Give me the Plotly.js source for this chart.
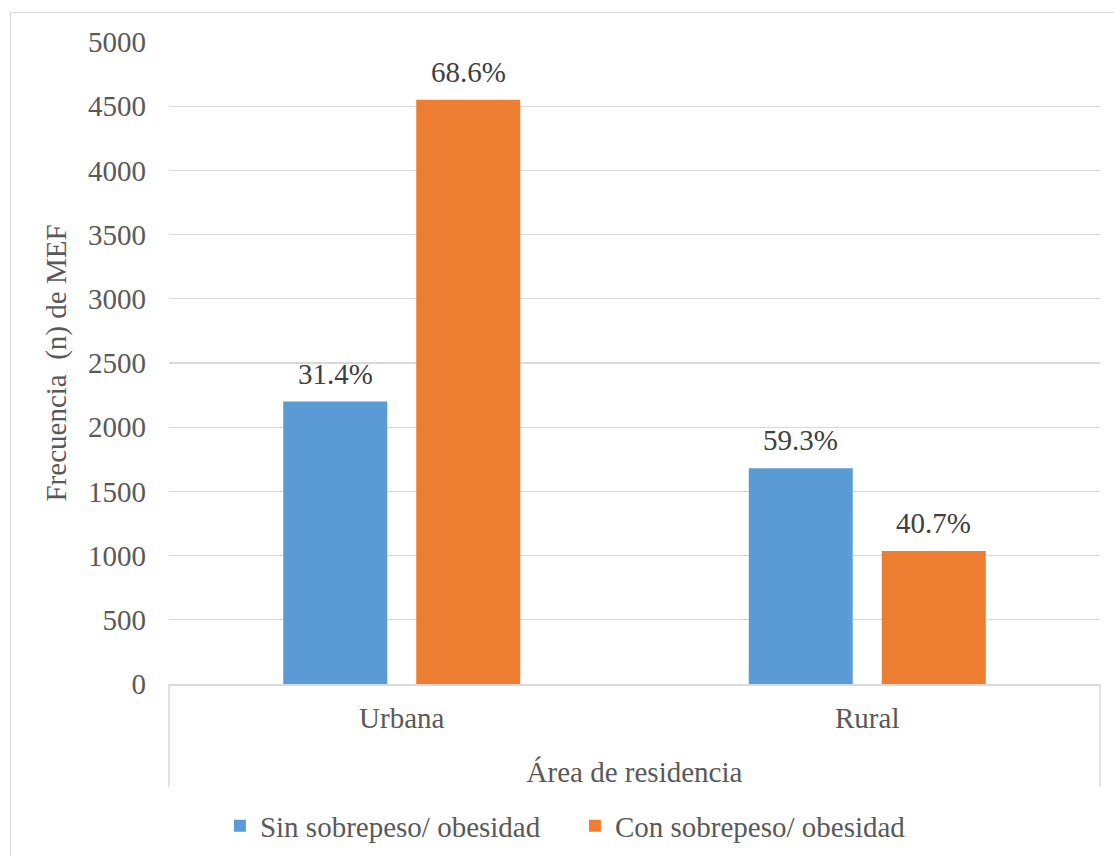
<!DOCTYPE html>
<html>
<head>
<meta charset="utf-8">
<script src="https://cdn.plot.ly/plotly-3.0.1.min.js"></script>
<style>
  html, body { margin: 0; padding: 0; background: #fff; }
  #wrap { position: relative; width: 1114px; height: 856px; overflow: hidden; }
  #frame { position: absolute; left: 10px; top: 12px; width: 1200px; height: 1000px; border: 1.5px solid #d9d9d9; box-sizing: border-box; pointer-events: none; }
  #chart { position: absolute; left: 0; top: 0; width: 1114px; height: 856px; }
</style>
</head>
<body>
<div id="wrap">
  <div id="chart"></div>
  <div id="frame"></div>
</div>
<script>
const categories = ["Urbana", "Rural"];
const sinValues = [2200, 1680];
const conValues = [4550, 1035];
const sinLabels = ["31.4%", "59.3%"];
const conLabels = ["68.6%", "40.7%"];
const seriesNames = ["Sin sobrepeso/ obesidad", "Con sobrepeso/ obesidad"];
const yTickVals = [0, 500, 1000, 1500, 2000, 2500, 3000, 3500, 4000, 4500, 5000];

const FONT = "Liberation Serif, Times New Roman, serif";
const TXT = "#595959";
const FS = 29;

const traces = [
  {
    type: "bar", name: seriesNames[0], x: categories, y: sinValues,
    marker: {color: "#5B9BD5"}
  },
  {
    type: "bar", name: seriesNames[1], x: categories, y: conValues,
    marker: {color: "#ED7D31"}
  }
];

// value labels above each bar (grouped offset: half a bar slot to each side)
const annotations = [];
const seriesVals = [sinValues, conValues];
const seriesLbls = [sinLabels, conLabels];
const shifts = [-66.5, 66.5];
for (let s = 0; s < 2; s++) {
  for (let i = 0; i < categories.length; i++) {
    annotations.push({
      x: categories[i], y: seriesVals[s][i], xref: "x", yref: "y",
      text: seriesLbls[s][i], showarrow: false,
      xanchor: "center", yanchor: "bottom", xshift: shifts[s], yshift: 10,
      font: {family: FONT, size: FS, color: "#404040"}
    });
  }
}

const layout = {
  width: 1114, height: 856,
  margin: {l: 169, r: 14, t: 42, b: 172, autoexpand: false},
  paper_bgcolor: "#fff", plot_bgcolor: "#fff",
  font: {family: FONT, size: FS, color: TXT},
  barmode: "group", bargap: 0.4286, bargroupgap: 0.218,
  showlegend: true,
  legend: {
    orientation: "h", x: 0.436, xanchor: "center", y: -0.221, yanchor: "middle",
    font: {family: FONT, size: FS, color: TXT}, traceorder: "normal",
    entrywidth: 310
  },
  xaxis: {
    showline: true, linecolor: "#d9d9d9", linewidth: 1.5,
    ticks: "", showgrid: false, zeroline: false,
    tickfont: {family: FONT, size: FS, color: TXT},
    ticklabelstandoff: 8,
    title: {text: "Área de residencia", font: {family: FONT, size: FS, color: TXT}, standoff: 28},
    automargin: false
  },
  yaxis: {
    range: [0, 5000], tickvals: yTickVals, ticktext: yTickVals.map(String),
    showgrid: true, gridcolor: "#d9d9d9", gridwidth: 1.4,
    zeroline: false, showline: false, ticks: "",
    tickfont: {family: FONT, size: FS, color: TXT},
    ticklabelstandoff: 22,
    title: {text: "Frecuencia  (n) de MEF", font: {family: FONT, size: FS, color: TXT}, standoff: 12},
    automargin: false
  },
  annotations: annotations,
  shapes: [
    {type: "line", xref: "paper", yref: "paper", x0: 0, x1: 0, y0: 0, y1: -0.1604, line: {color: "#d9d9d9", width: 1.5}},
    {type: "line", xref: "paper", yref: "paper", x0: 1, x1: 1, y0: 0, y1: -0.1604, line: {color: "#d9d9d9", width: 1.5}}
  ]
};

Plotly.newPlot("chart", traces, layout, {displayModeBar: false, staticPlot: true});
</script>
</body>
</html>
